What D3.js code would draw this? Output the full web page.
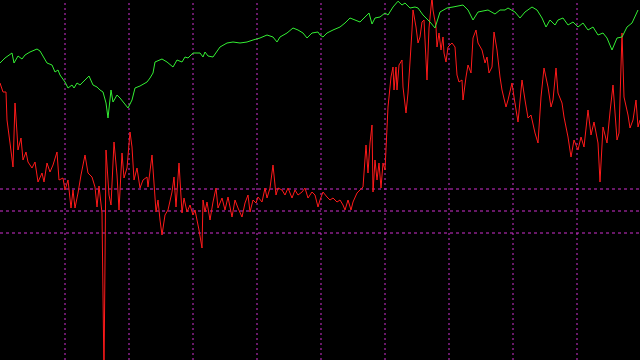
<!DOCTYPE html>
<html>
<head>
<meta charset="utf-8">
<script src="https://cdn.jsdelivr.net/npm/d3@7"></script>
<style>
  html, body { margin: 0; padding: 0; background: #000; }
  svg { display: block; }
</style>
</head>
<body>
<svg width="640" height="360"></svg>
<script>
// bar positions (session index) and values for each series
const greenX = [0,5,12,14,18,22,25,30,37,40,47,52,55,58,60,65,68,72,74,77,80,85,89,93,97,100,103,106,108,111,
  113,117,120,124,128,132,135,140,147,150,153,155,162,167,173,177,182,185,188,193,200,203,205,208,213,220,227,233,240,247,
  253,260,267,273,277,280,287,293,298,303,307,312,318,320,323,327,333,340,345,350,355,360,365,369,372,375,380,385,388,393,
  398,402,405,410,415,418,423,430,435,440,447,453,463,468,473,478,488,495,500,505,508,515,520,525,532,537,542,546,550,555,
  558,563,568,573,578,583,588,593,598,603,607,612,617,622,627,632,638];
const greenV = [74.25,75.5,76.75,74.25,76,75.25,76.25,77,77.75,77.25,74.25,73.75,72,72.5,71.25,69.5,68,68.75,68,69.25,
  68.75,70,71,68.75,68.25,67.5,67,64.25,60.5,67.5,64.5,66.25,65.5,64.25,63,65,68,68.5,69.5,70.5,
  71.75,74.5,75.25,74.5,73.25,75,74.5,75.75,75.5,76.75,76.75,75.75,77,76,75.75,78.25,79.25,79.5,79.25,79.5,
  80,80.5,81.25,80.75,79.5,80.75,81.75,83,82.5,81.75,80.5,81.75,82,81.25,80.75,81.75,82.5,83.25,84.25,85.5,
  85,84.5,85.75,86.75,84,85.5,85.75,86.75,86.25,88.25,89.7,88.75,89.25,88,88.25,88,86.25,84.5,83,87,
  88,88.25,88.75,87.5,85,87,87.5,86.5,87.5,87.5,88,87,85.5,87,88.25,87.5,85.5,83.25,85,83.75,
  85,85.5,83.75,84.5,83.25,84.25,82.5,83.25,81.25,81.75,80.5,77.5,80.5,80.75,83.25,84.25,87.5];

const redX = [0,3,6,7,10,13,15,17,18,21,23,26,28,32,35,38,42,44,47,50,53,57,59,63,65,68,71,73,75,78,
  81,85,88,92,95,97,99,102,104,106,109,111,114,117,119,122,124,127,130,132,134,137,140,143,147,148,152,154,156,158,
  160,162,165,168,172,174,176,179,182,184,187,190,193,195,197,199,202,203,205,207,210,213,216,218,222,225,228,232,235,238,
  242,245,248,250,253,256,258,262,265,267,270,273,276,278,282,285,288,292,295,298,302,305,308,312,315,318,320,323,327,330,
  333,337,340,343,345,348,351,353,357,360,363,366,368,370,372,373,375,377,379,381,383,385,388,391,393,394,396,397,399,402,
  403,406,408,410,412,413,416,418,420,422,424,427,429,432,433,436,437,439,441,443,444,446,448,452,455,457,459,462,463,466,
  468,471,473,476,478,482,485,487,489,492,494,497,500,502,506,508,512,514,518,522,525,528,531,535,538,541,544,548,551,553,
  556,558,562,564,568,571,574,578,581,584,588,591,594,598,600,603,607,610,613,617,619,622,624,628,630,633,636,638,640];
const redV = [69.25,67,67,60,54.25,48.25,64.25,56.75,52.5,55.5,50,52,49.5,48,49.5,44.5,46.75,44.5,49.25,47,48.75,52,45,45.5,42.5,45,38,42.5,38,41.75,
  46.25,51.25,46.75,45.75,43.25,38.25,43.5,36.75,-3.75,52.5,41.25,38.75,54.5,46.25,37.5,51.75,45.5,48,57,53.25,45,48,43,45,45.75,43.25,51.25,44.25,37,40,
  35,31.25,36.25,37.5,42,45.75,38.25,49.25,36.75,40.5,37,38.75,36.25,37.5,35,32.5,28,40,37,39.5,35,39.5,43,38,40.5,37.5,40.75,35.75,40,38,
  35.75,39.25,41.25,37,40,39.25,40.75,39.5,43,40.5,43,48.75,41.25,43,42.5,41.25,43,40.5,42.5,41.25,42,43,40.5,42,41.25,38.25,40,42,40.75,40,
  40.5,39.5,40,38.75,37.5,40,37.5,39.5,41.75,42.5,43.25,53.75,46.75,54.25,58.75,42,50,45,49.25,43,49.25,47.5,63.25,70.75,73.25,67.5,73.25,67.5,73.75,75,
  68.25,61.75,66.75,74.5,82.5,87.5,83.25,79.25,80.75,84.5,85,70,83,90.75,87.5,83.25,78.25,81.75,77.5,80.75,76.75,74.5,78.25,79.25,78.25,71.25,69.5,70,65,70.75,
  73.75,71.75,80.5,82.5,79.25,77.5,74.25,75.75,71.75,73.25,82,77.5,70.75,67.5,63.25,65,69.25,65.75,59.5,70,65,60.5,61.25,56.75,54.25,65.75,73,68.25,63.25,65,
  73,66.75,64.25,60.75,55.75,50.75,55,52.5,55.75,53.25,62.5,56.25,59.5,54.25,44.5,58.25,54.25,62,68.75,55,56.75,81.75,65.75,61.25,58,60,65,58.25,60];

// grid levels
const xTicks = [64,128,192,256,320,384,448,512,576];
const yTicks = [43,37.5,32];

const svg = d3.select('svg');
const width = +svg.attr('width');
const height = +svg.attr('height');

svg.append('rect')
  .attr('width', width)
  .attr('height', height)
  .attr('fill', '#000');

const xScale = d3.scaleLinear().domain([0, 640]).range([0, width]);
const yScale = d3.scaleLinear().domain([0, 90]).range([height, 0]);

const gridColor = '#d030d0';

const xGrid = d3.axisBottom(xScale).tickValues(xTicks).tickSize(-height).tickFormat('');
const yGrid = d3.axisLeft(yScale).tickValues(yTicks).tickSize(-width).tickFormat('');

svg.append('g')
  .attr('transform', `translate(0.5, ${height})`)
  .call(xGrid)
  .call(g => g.select('.domain').remove())
  .selectAll('line')
    .attr('stroke', gridColor)
    .attr('stroke-dasharray', '2,3');

svg.append('g')
  .attr('transform', 'translate(0, 0.5)')
  .call(yGrid)
  .call(g => g.select('.domain').remove())
  .selectAll('line')
    .attr('stroke', gridColor)
    .attr('stroke-dasharray', '3,3');

const line = d3.line()
  .x(d => xScale(d[0]))
  .y(d => yScale(d[1]));

svg.append('path')
  .datum(d3.zip(redX, redV))
  .attr('fill', 'none')
  .attr('stroke', '#ff1a1a')
  .attr('stroke-width', 1)
  .attr('d', line);

svg.append('path')
  .datum(d3.zip(greenX, greenV))
  .attr('fill', 'none')
  .attr('stroke', '#33ee33')
  .attr('stroke-width', 1)
  .attr('d', line);
</script>
</body>
</html>
